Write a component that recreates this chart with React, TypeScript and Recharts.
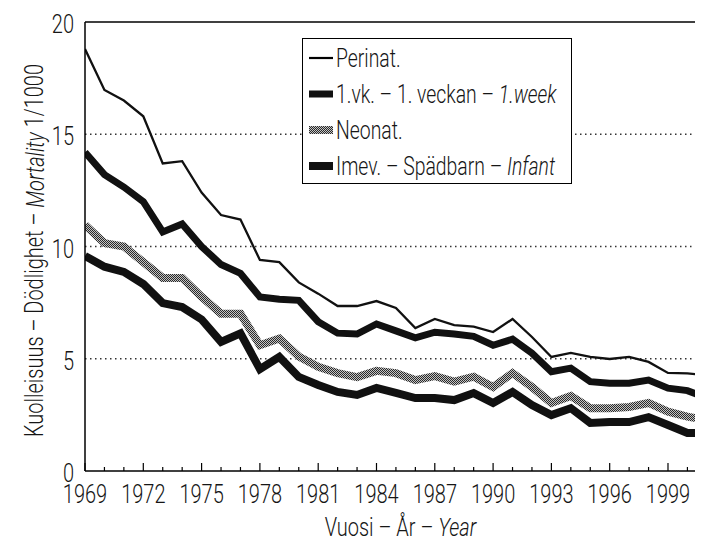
import React from "react";
import { LineChart, Line, XAxis, YAxis, CartesianGrid, ReferenceLine } from "recharts";

const years = [1969,1970,1971,1972,1973,1974,1975,1976,1977,1978,1979,1980,1981,1982,1983,1984,1985,1986,1987,1988,1989,1990,1991,1992,1993,1994,1995,1996,1997,1998,1999,2000,2001];
const perinat = [18.8,16.97,16.5,15.8,13.7,13.8,12.4,11.4,11.2,9.4,9.3,8.4,7.9,7.35,7.35,7.57,7.26,6.37,6.77,6.5,6.43,6.19,6.77,5.97,5.08,5.26,5.08,4.99,5.08,4.86,4.37,4.35,4.27];
const week1 = [14.2,13.2,12.65,12.0,10.65,11.0,10.0,9.2,8.8,7.75,7.65,7.6,6.65,6.14,6.1,6.55,6.24,5.93,6.18,6.1,6.0,5.6,5.87,5.25,4.42,4.58,3.98,3.91,3.91,4.05,3.69,3.58,3.25];
const neonat = [10.96,10.15,10.0,9.3,8.6,8.6,7.76,7.0,7.0,5.6,5.9,5.1,4.64,4.36,4.18,4.46,4.36,4.05,4.23,3.98,4.2,3.74,4.36,3.74,3.03,3.34,2.8,2.8,2.85,3.03,2.64,2.42,2.27];
const infant = [9.58,9.1,8.87,8.33,7.48,7.3,6.75,5.75,6.13,4.54,5.08,4.19,3.83,3.52,3.39,3.7,3.48,3.25,3.25,3.16,3.47,3.03,3.52,2.94,2.49,2.8,2.14,2.18,2.18,2.4,2.05,1.69,1.69];
const xTicks = [1969,1970,1971,1972,1973,1974,1975,1976,1977,1978,1979,1980,1981,1982,1983,1984,1985,1986,1987,1988,1989,1990,1991,1992,1993,1994,1995,1996,1997,1998,1999,2000];
const yTicks = [0, 5, 10, 15, 20];
const gridValues = [5, 10, 15];
const X_MIN = 1969;
const X_MAX = 2000.75;

const data = years.map((y, i) => ({
  year: y,
  perinat: perinat[i],
  week1: week1[i],
  neonat: neonat[i],
  infant: infant[i],
}));

const FONT = "Roboto, 'DejaVu Sans', sans-serif";
const TXT = "#161616";
const SX = 0.8;
const FS = 25;
const FW = 300;

const XTick = (props: any) => {
  const { x, y, payload } = props;
  const yr = payload.value;
  const major = (yr - 1969) % 3 === 0;
  return (
    <g>
      <line x1={x} x2={x} y1={y} y2={y - (major ? 8 : 4)} stroke="#000" strokeWidth={1.2} />
      {major && (
        <text
          transform={`translate(${x} ${y + 32}) scale(${SX} 1)`}
          textAnchor="middle"
          fontFamily={FONT}
          fontWeight={FW}
          fontSize={FS}
          fill={TXT}
        >
          {yr}
        </text>
      )}
    </g>
  );
};

const YTick = (props: any) => {
  const { x, y, payload } = props;
  return (
    <text
      transform={`translate(${x - 2} ${y + 11}) scale(${SX} 1)`}
      textAnchor="end"
      fontFamily={FONT}
      fontWeight={FW}
      fontSize={FS}
      fill={TXT}
    >
      {payload.value}
    </text>
  );
};

const symStyle: React.CSSProperties = { display: "block", flexShrink: 0 };

const Sym = ({ kind }: { kind: string }) => {
  if (kind === "perinat")
    return (
      <svg width={24} height={12} style={symStyle}>
        <line x1={0} x2={24} y1={6} y2={6} stroke="#000" strokeWidth={2.2} />
      </svg>
    );
  if (kind === "neonat")
    return (
      <svg width={24} height={12} style={symStyle}>
        <defs>
          <pattern id="lgdots" width={2} height={2} patternUnits="userSpaceOnUse">
            <rect width={2} height={2} fill="#c4c4c4" />
            <rect width={1} height={1} fill="#2a2a2a" />
            <rect x={1} y={1} width={1} height={1} fill="#2a2a2a" />
          </pattern>
        </defs>
        <rect x={0} y={2} width={24} height={8} fill="url(#lgdots)" />
      </svg>
    );
  return (
    <svg width={24} height={12} style={symStyle}>
      <rect x={0} y={kind === "week1" ? 2.5 : 2} width={24} height={kind === "week1" ? 7 : 8} fill="#111" />
    </svg>
  );
};

const legendItems = [
  { kind: "perinat", label: <>Perinat.</> },
  { kind: "week1", label: <>1.vk. – 1. veckan – <i>1.week</i></> },
  { kind: "neonat", label: <>Neonat.</> },
  { kind: "infant", label: <>Imev. – Spädbarn – <i>Infant</i></> },
];

const LegendBox = () => (
  <div
    style={{
      position: "absolute",
      left: 294,
      top: 30,
      background: "#fff",
      border: "1.5px solid #000",
      boxSizing: "border-box",
      width: 270,
      height: 146,
      padding: "1px 0 0 6px",
      fontFamily: FONT,
      fontWeight: FW,
      fontSize: 26,
      color: TXT,
      overflow: "visible",
    }}
  >
    {legendItems.map((it) => (
      <div key={it.kind} style={{ display: "flex", alignItems: "center", height: 36, whiteSpace: "nowrap" }}>
        <Sym kind={it.kind} />
        <span
          style={{
            marginLeft: 3,
            display: "inline-block",
            flexShrink: 0,
            transform: `scaleX(${0.745})`,
            transformOrigin: "left center",
          }}
        >
          {it.label}
        </span>
      </div>
    ))}
  </div>
);

const XLabel = (props: any) => {
  const vb = props.viewBox || {};
  const cx = vb.x + vb.width / 2 + 7;
  return (
    <text
      transform={`translate(${cx} 528) scale(${SX} 1)`}
      textAnchor="middle"
      fontFamily={FONT}
      fontWeight={FW}
      fontSize={FS}
      fill={TXT}
    >
      Vuosi – År – <tspan fontStyle="italic">Year</tspan>
    </text>
  );
};

const YLabel = (props: any) => {
  const vb = props.viewBox || {};
  const cy = vb.y + vb.height / 2 + 4;
  const cx = 27;
  return (
    <text
      transform={`translate(${cx} ${cy}) rotate(-90) scale(${SX} 1)`}
      textAnchor="middle"
      dominantBaseline="central"
      fontFamily={FONT}
      fontWeight={FW}
      fontSize={FS}
      fill={TXT}
    >
      Kuolleisuus – Dödlighet – <tspan fontStyle="italic">Mortality</tspan> 1/1000
    </text>
  );
};

export default function App() {
  return (
    <div style={{ width: 695, height: 534, position: "relative" }}>
      <LineChart width={695} height={534} data={data} margin={{ top: 14, right: 1, bottom: 0, left: 0 }}>
        <defs>
          <pattern id="dots" width={2} height={2} patternUnits="userSpaceOnUse">
            <rect width={2} height={2} fill="#c4c4c4" />
            <rect width={1} height={1} fill="#2a2a2a" />
            <rect x={1} y={1} width={1} height={1} fill="#2a2a2a" />
          </pattern>
        </defs>
        <CartesianGrid
          horizontal={true}
          vertical={false}
          horizontalValues={gridValues}
          stroke="#333"
          strokeDasharray="1.5 3.5"
          strokeWidth={1.5}
        />
        <XAxis
          dataKey="year"
          type="number"
          domain={[X_MIN, X_MAX]}
          allowDataOverflow
          ticks={xTicks}
          interval={0}
          tickSize={0}
          tickMargin={0}
          tickLine={false}
          tick={<XTick />}
          height={71}
          axisLine={{ stroke: "#000", strokeWidth: 1.5 }}
          label={{ content: <XLabel /> }}
        />
        <YAxis
          type="number"
          domain={[0, 20]}
          ticks={yTicks}
          interval={0}
          tickSize={0}
          tickMargin={9}
          tickLine={false}
          tick={<YTick />}
          width={77}
          axisLine={{ stroke: "#000", strokeWidth: 1.5 }}
          label={{ content: <YLabel /> }}
        />
        <ReferenceLine y={20} stroke="#000" strokeWidth={1.5} />
        <ReferenceLine x={X_MAX} stroke="#000" strokeWidth={1.5} />
        <Line dataKey="perinat" stroke="#111" strokeWidth={2.3} dot={false} isAnimationActive={false} />
        <Line dataKey="week1" stroke="#111" strokeWidth={7} dot={false} isAnimationActive={false} />
        <Line dataKey="neonat" stroke="url(#dots)" strokeWidth={8} dot={false} isAnimationActive={false} />
        <Line dataKey="infant" stroke="#111" strokeWidth={8} dot={false} isAnimationActive={false} />
      </LineChart>
      <LegendBox />
    </div>
  );
}
